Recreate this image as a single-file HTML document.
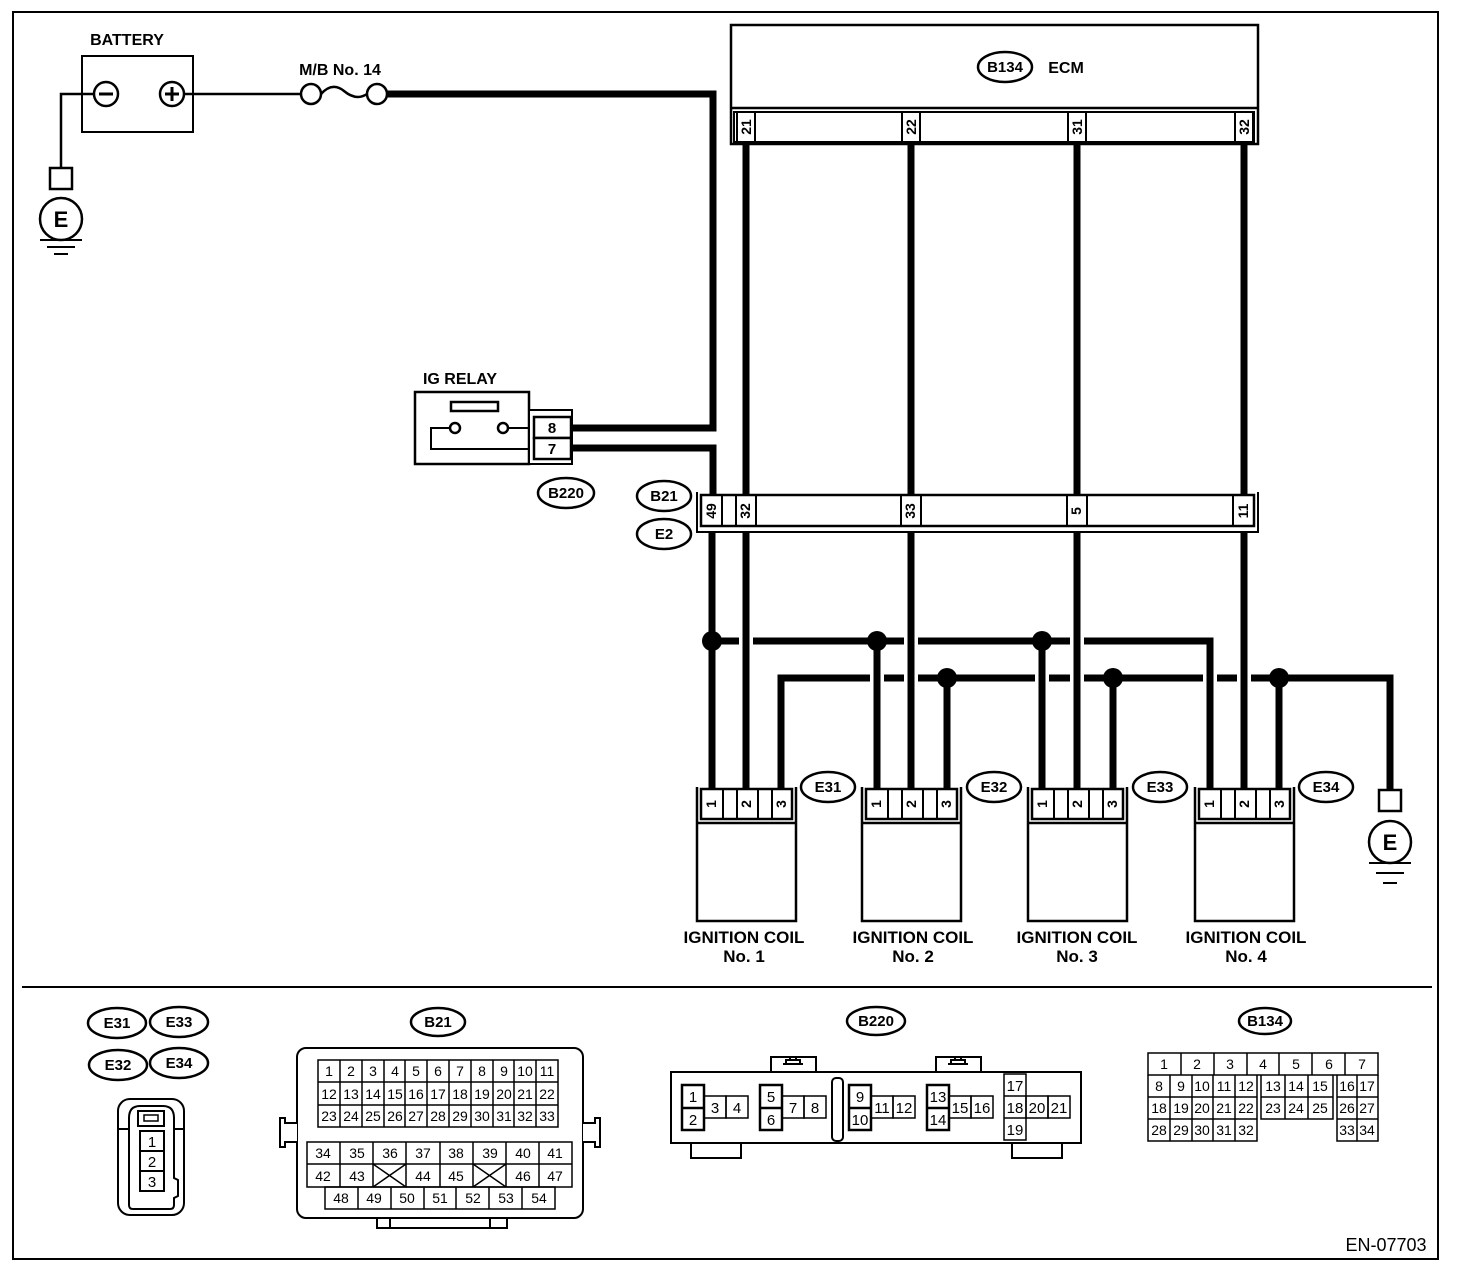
<!DOCTYPE html>
<html><head><meta charset="utf-8"><style>
html,body{margin:0;padding:0;background:#fff}
svg{display:block}
text{font-family:"Liberation Sans",sans-serif;font-weight:bold;fill:#000}
</style></head><body>
<svg width="1472" height="1274" viewBox="0 0 1472 1274" xmlns="http://www.w3.org/2000/svg">
<rect x="0" y="0" width="1472" height="1274" fill="#fff"/>
<rect x="13" y="12" width="1425" height="1247" fill="none" stroke="#000" stroke-width="2"/>
<line x1="22" y1="987" x2="1432" y2="987" stroke="#000" stroke-width="2"/>

<!-- Battery -->
<text x="127" y="45" font-size="16" text-anchor="middle">BATTERY</text>
<rect x="82" y="56" width="111" height="76" fill="none" stroke="#000" stroke-width="2"/>
<circle cx="106" cy="94" r="12" fill="none" stroke="#000" stroke-width="2.5"/>
<line x1="99" y1="94" x2="113" y2="94" stroke="#000" stroke-width="3"/>
<circle cx="172" cy="94" r="12" fill="none" stroke="#000" stroke-width="2.5"/>
<line x1="165" y1="94" x2="179" y2="94" stroke="#000" stroke-width="3"/>
<line x1="172" y1="87" x2="172" y2="101" stroke="#000" stroke-width="3"/>
<polyline points="94,94 61,94 61,168" fill="none" stroke="#000" stroke-width="2.5"/>
<line x1="184" y1="94" x2="300" y2="94" stroke="#000" stroke-width="2.5"/>
<text x="340" y="75" font-size="16" text-anchor="middle">M/B No. 14</text>
<circle cx="311" cy="94" r="10" fill="none" stroke="#000" stroke-width="2.5"/>
<circle cx="377" cy="94" r="10" fill="none" stroke="#000" stroke-width="2.5"/>
<path d="M321,94 C330,84 338,86 344,91 C350,96 358,100 367,94" fill="none" stroke="#000" stroke-width="2.5"/>
<!-- left ground -->
<rect x="50" y="168" width="22" height="21" fill="#fff" stroke="#000" stroke-width="2.5"/>
<circle cx="61" cy="219" r="21" fill="#fff" stroke="#000" stroke-width="2.5"/>
<text x="61" y="227" font-size="22" text-anchor="middle">E</text>
<line x1="40" y1="240" x2="82" y2="240" stroke="#000" stroke-width="2"/>
<line x1="47" y1="247" x2="75" y2="247" stroke="#000" stroke-width="2"/>
<line x1="54" y1="254" x2="68" y2="254" stroke="#000" stroke-width="2"/>

<!-- power wire -->
<polyline points="387,94 713,94 713,428 572,428" fill="none" stroke="#000" stroke-width="7"/>
<polyline points="572,448 713,448 713,495" fill="none" stroke="#000" stroke-width="7"/>

<!-- IG relay -->
<text x="460" y="384" font-size="16" text-anchor="middle">IG RELAY</text>
<rect x="415" y="392" width="114" height="72" fill="none" stroke="#000" stroke-width="2.5"/>
<rect x="451" y="402" width="47" height="9" fill="none" stroke="#000" stroke-width="2.5"/>
<polyline points="451,428 431,428 431,449 529,449" fill="none" stroke="#000" stroke-width="2"/>
<line x1="508" y1="428" x2="529" y2="428" stroke="#000" stroke-width="2"/>
<circle cx="455" cy="428" r="5" fill="#fff" stroke="#000" stroke-width="2.5"/>
<circle cx="503" cy="428" r="5" fill="#fff" stroke="#000" stroke-width="2.5"/>
<rect x="529" y="410" width="43" height="54" fill="#fff" stroke="#000" stroke-width="2"/>
<rect x="534" y="417" width="37" height="21" fill="#fff" stroke="#000" stroke-width="2.5"/>
<rect x="534" y="438" width="37" height="21" fill="#fff" stroke="#000" stroke-width="2.5"/>
<text x="552" y="433" font-size="15" text-anchor="middle">8</text>
<text x="552" y="454" font-size="15" text-anchor="middle">7</text>
<ellipse cx="566" cy="493" rx="28" ry="15" fill="#fff" stroke="#000" stroke-width="2.5"/>
<text x="566" y="498" font-size="15" text-anchor="middle">B220</text>

<!-- ECM -->
<rect x="731" y="25" width="527" height="119" fill="none" stroke="#000" stroke-width="2.5"/>
<line x1="731" y1="108" x2="1258" y2="108" stroke="#000" stroke-width="2.5"/>
<rect x="734" y="112" width="520" height="30" fill="none" stroke="#000" stroke-width="2"/>
<ellipse cx="1005" cy="67" rx="27" ry="15" fill="#fff" stroke="#000" stroke-width="2.5"/>
<text x="1005" y="72" font-size="15" text-anchor="middle">B134</text>
<text x="1066" y="73" font-size="16" text-anchor="middle">ECM</text>
<g stroke="#000" stroke-width="2">
<line x1="755" y1="112" x2="755" y2="142"/><line x1="737" y1="112" x2="737" y2="142"/>
<line x1="902" y1="112" x2="902" y2="142"/><line x1="920" y1="112" x2="920" y2="142"/>
<line x1="1068" y1="112" x2="1068" y2="142"/><line x1="1086" y1="112" x2="1086" y2="142"/>
<line x1="1235" y1="112" x2="1235" y2="142"/><line x1="1253" y1="112" x2="1253" y2="142"/>
</g>
<g font-size="14" text-anchor="middle">
<text transform="translate(751,127) rotate(-90)">21</text>
<text transform="translate(916,127) rotate(-90)">22</text>
<text transform="translate(1082,127) rotate(-90)">31</text>
<text transform="translate(1249,127) rotate(-90)">32</text>
</g>
<g stroke="#000" stroke-width="7">
<line x1="746" y1="143" x2="746" y2="495"/>
<line x1="911" y1="143" x2="911" y2="495"/>
<line x1="1077" y1="143" x2="1077" y2="495"/>
<line x1="1244" y1="143" x2="1244" y2="495"/>
</g>

<!-- B21/E2 strip -->
<polyline points="697,492 697,532 1258,532 1258,492" fill="none" stroke="#000" stroke-width="2"/>
<rect x="701" y="495" width="553" height="31" fill="#fff" stroke="#000" stroke-width="2.5"/>
<g stroke="#000" stroke-width="2">
<line x1="722" y1="495" x2="722" y2="526"/>
<line x1="736" y1="495" x2="736" y2="526"/><line x1="756" y1="495" x2="756" y2="526"/>
<line x1="901" y1="495" x2="901" y2="526"/><line x1="921" y1="495" x2="921" y2="526"/>
<line x1="1067" y1="495" x2="1067" y2="526"/><line x1="1087" y1="495" x2="1087" y2="526"/>
<line x1="1233" y1="495" x2="1233" y2="526"/>
</g>
<g font-size="14" text-anchor="middle">
<text transform="translate(716,511) rotate(-90)">49</text>
<text transform="translate(750,511) rotate(-90)">32</text>
<text transform="translate(915,511) rotate(-90)">33</text>
<text transform="translate(1081,511) rotate(-90)">5</text>
<text transform="translate(1248,511) rotate(-90)">11</text>
</g>
<ellipse cx="664" cy="496" rx="27" ry="15" fill="#fff" stroke="#000" stroke-width="2.5"/>
<text x="664" y="501" font-size="15" text-anchor="middle">B21</text>
<ellipse cx="664" cy="534" rx="27" ry="15" fill="#fff" stroke="#000" stroke-width="2.5"/>
<text x="664" y="539" font-size="15" text-anchor="middle">E2</text>

<!-- lower wires -->
<g stroke="#000" stroke-width="7" fill="none">
<line x1="712" y1="531" x2="712" y2="788"/>
<line x1="746" y1="531" x2="746" y2="788"/>
<line x1="911" y1="531" x2="911" y2="788"/>
<line x1="1077" y1="531" x2="1077" y2="788"/>
<line x1="1244" y1="531" x2="1244" y2="788"/>
<line x1="877" y1="641" x2="877" y2="788"/>
<line x1="1042" y1="641" x2="1042" y2="788"/>
<line x1="947" y1="678" x2="947" y2="788"/>
<line x1="1113" y1="678" x2="1113" y2="788"/>
<line x1="1279" y1="678" x2="1279" y2="788"/>
<line x1="712" y1="641" x2="739" y2="641"/>
<line x1="753" y1="641" x2="904" y2="641"/>
<line x1="918" y1="641" x2="1070" y2="641"/>
<polyline points="1084,641 1210,641 1210,788"/>
<polyline points="781,788 781,678 870,678"/>
<line x1="884" y1="678" x2="904" y2="678"/>
<line x1="918" y1="678" x2="1035" y2="678"/>
<line x1="1049" y1="678" x2="1070" y2="678"/>
<line x1="1084" y1="678" x2="1203" y2="678"/>
<line x1="1217" y1="678" x2="1237" y2="678"/>
<polyline points="1251,678 1390,678 1390,790"/>
</g>
<g fill="#000">
<circle cx="712" cy="641" r="10"/><circle cx="877" cy="641" r="10"/><circle cx="1042" cy="641" r="10"/>
<circle cx="947" cy="678" r="10"/><circle cx="1113" cy="678" r="10"/><circle cx="1279" cy="678" r="10"/>
</g>

<!-- right ground -->
<rect x="1379" y="790" width="22" height="21" fill="#fff" stroke="#000" stroke-width="2.5"/>
<circle cx="1390" cy="842" r="21" fill="#fff" stroke="#000" stroke-width="2.5"/>
<text x="1390" y="850" font-size="22" text-anchor="middle">E</text>
<line x1="1369" y1="863" x2="1411" y2="863" stroke="#000" stroke-width="2"/>
<line x1="1376" y1="873" x2="1404" y2="873" stroke="#000" stroke-width="2"/>
<line x1="1383" y1="883" x2="1397" y2="883" stroke="#000" stroke-width="2"/>

<!-- coils -->
<g font-size="14" text-anchor="middle">
<g transform="translate(0,0)">
<polyline points="697,787 697,921 796,921 796,787" fill="none" stroke="#000" stroke-width="2.5"/>
<line x1="697" y1="823" x2="796" y2="823" stroke="#000" stroke-width="2.5"/>
<rect x="701" y="789" width="91" height="30" fill="#fff" stroke="#000" stroke-width="2.5"/>
<g stroke="#000" stroke-width="2"><line x1="723" y1="789" x2="723" y2="819"/><line x1="737" y1="789" x2="737" y2="819"/><line x1="758" y1="789" x2="758" y2="819"/><line x1="772" y1="789" x2="772" y2="819"/></g>
<text transform="translate(716,804) rotate(-90)">1</text>
<text transform="translate(751,804) rotate(-90)">2</text>
<text transform="translate(786,804) rotate(-90)">3</text>
</g>
<g transform="translate(165,0)">
<polyline points="697,787 697,921 796,921 796,787" fill="none" stroke="#000" stroke-width="2.5"/>
<line x1="697" y1="823" x2="796" y2="823" stroke="#000" stroke-width="2.5"/>
<rect x="701" y="789" width="91" height="30" fill="#fff" stroke="#000" stroke-width="2.5"/>
<g stroke="#000" stroke-width="2"><line x1="723" y1="789" x2="723" y2="819"/><line x1="737" y1="789" x2="737" y2="819"/><line x1="758" y1="789" x2="758" y2="819"/><line x1="772" y1="789" x2="772" y2="819"/></g>
<text transform="translate(716,804) rotate(-90)">1</text>
<text transform="translate(751,804) rotate(-90)">2</text>
<text transform="translate(786,804) rotate(-90)">3</text>
</g>
<g transform="translate(331,0)">
<polyline points="697,787 697,921 796,921 796,787" fill="none" stroke="#000" stroke-width="2.5"/>
<line x1="697" y1="823" x2="796" y2="823" stroke="#000" stroke-width="2.5"/>
<rect x="701" y="789" width="91" height="30" fill="#fff" stroke="#000" stroke-width="2.5"/>
<g stroke="#000" stroke-width="2"><line x1="723" y1="789" x2="723" y2="819"/><line x1="737" y1="789" x2="737" y2="819"/><line x1="758" y1="789" x2="758" y2="819"/><line x1="772" y1="789" x2="772" y2="819"/></g>
<text transform="translate(716,804) rotate(-90)">1</text>
<text transform="translate(751,804) rotate(-90)">2</text>
<text transform="translate(786,804) rotate(-90)">3</text>
</g>
<g transform="translate(498,0)">
<polyline points="697,787 697,921 796,921 796,787" fill="none" stroke="#000" stroke-width="2.5"/>
<line x1="697" y1="823" x2="796" y2="823" stroke="#000" stroke-width="2.5"/>
<rect x="701" y="789" width="91" height="30" fill="#fff" stroke="#000" stroke-width="2.5"/>
<g stroke="#000" stroke-width="2"><line x1="723" y1="789" x2="723" y2="819"/><line x1="737" y1="789" x2="737" y2="819"/><line x1="758" y1="789" x2="758" y2="819"/><line x1="772" y1="789" x2="772" y2="819"/></g>
<text transform="translate(716,804) rotate(-90)">1</text>
<text transform="translate(751,804) rotate(-90)">2</text>
<text transform="translate(786,804) rotate(-90)">3</text>
</g>
</g>
<g font-size="15" text-anchor="middle">
<ellipse cx="828" cy="787" rx="27" ry="15" fill="#fff" stroke="#000" stroke-width="2.5"/><text x="828" y="792">E31</text>
<ellipse cx="994" cy="787" rx="27" ry="15" fill="#fff" stroke="#000" stroke-width="2.5"/><text x="994" y="792">E32</text>
<ellipse cx="1160" cy="787" rx="27" ry="15" fill="#fff" stroke="#000" stroke-width="2.5"/><text x="1160" y="792">E33</text>
<ellipse cx="1326" cy="787" rx="27" ry="15" fill="#fff" stroke="#000" stroke-width="2.5"/><text x="1326" y="792">E34</text>
</g>
<g font-size="17" text-anchor="middle">
<text x="744" y="943">IGNITION COIL</text><text x="744" y="962">No. 1</text>
<text x="913" y="943">IGNITION COIL</text><text x="913" y="962">No. 2</text>
<text x="1077" y="943">IGNITION COIL</text><text x="1077" y="962">No. 3</text>
<text x="1246" y="943">IGNITION COIL</text><text x="1246" y="962">No. 4</text>
</g>

<!-- bottom: E31 etc -->
<g font-size="15" text-anchor="middle">
<ellipse cx="117" cy="1023" rx="29" ry="15" fill="#fff" stroke="#000" stroke-width="2.5"/><text x="117" y="1028">E31</text>
<ellipse cx="179" cy="1022" rx="29" ry="15" fill="#fff" stroke="#000" stroke-width="2.5"/><text x="179" y="1027">E33</text>
<ellipse cx="118" cy="1065" rx="29" ry="15" fill="#fff" stroke="#000" stroke-width="2.5"/><text x="118" y="1070">E32</text>
<ellipse cx="179" cy="1063" rx="29" ry="15" fill="#fff" stroke="#000" stroke-width="2.5"/><text x="179" y="1068">E34</text>
</g>
<rect x="118" y="1099" width="66" height="116" rx="12" fill="none" stroke="#000" stroke-width="2"/>
<path d="M129,1205 L129,1118 Q129,1106 140,1106 L163,1106 Q174,1106 174,1118 L174,1178 L178,1180 L178,1196 L174,1198 L174,1205 Q174,1209 170,1209 L133,1209 Q129,1209 129,1205 Z" fill="none" stroke="#000" stroke-width="2"/>
<line x1="119" y1="1129" x2="129" y2="1129" stroke="#000" stroke-width="2"/>
<line x1="174" y1="1129" x2="183" y2="1129" stroke="#000" stroke-width="2"/>
<rect x="138" y="1111" width="26" height="15" fill="none" stroke="#000" stroke-width="2"/>
<rect x="144" y="1115" width="14" height="6" fill="none" stroke="#000" stroke-width="1.5"/>
<g fill="none" stroke="#000" stroke-width="2"><rect x="140" y="1131" width="24" height="20"/><rect x="140" y="1151" width="24" height="20"/><rect x="140" y="1171" width="24" height="20"/></g>
<g font-size="15" text-anchor="middle">
<text x="152" y="1147" style="font-weight:normal">1</text><text x="152" y="1167" style="font-weight:normal">2</text><text x="152" y="1187" style="font-weight:normal">3</text>
</g>

<!-- B21 -->
<ellipse cx="438" cy="1022" rx="27" ry="14" fill="#fff" stroke="#000" stroke-width="2.5"/>
<text x="438" y="1027" font-size="15" text-anchor="middle">B21</text>
<rect x="297" y="1048" width="286" height="170" rx="9" fill="none" stroke="#000" stroke-width="2"/>
<path d="M297,1123 L285,1123 L285,1118 L280,1118 L280,1147 L285,1147 L285,1142 L297,1142" fill="#fff" stroke="#000" stroke-width="2"/>
<path d="M583,1123 L595,1123 L595,1118 L600,1118 L600,1147 L595,1147 L595,1142 L583,1142" fill="#fff" stroke="#000" stroke-width="2"/>
<path d="M377,1218 L377,1228 L507,1228 L507,1218" fill="none" stroke="#000" stroke-width="2"/>
<line x1="390" y1="1218" x2="390" y2="1228" stroke="#000" stroke-width="2"/>
<line x1="490" y1="1218" x2="490" y2="1228" stroke="#000" stroke-width="2"/>
<g fill="none" stroke="#000" stroke-width="1.5">
<rect x="318" y="1060" width="240" height="67"/>
<line x1="318" y1="1082" x2="558" y2="1082"/><line x1="318" y1="1105" x2="558" y2="1105"/>
<line x1="340" y1="1060" x2="340" y2="1127"/><line x1="362" y1="1060" x2="362" y2="1127"/><line x1="384" y1="1060" x2="384" y2="1127"/><line x1="405" y1="1060" x2="405" y2="1127"/><line x1="427" y1="1060" x2="427" y2="1127"/><line x1="449" y1="1060" x2="449" y2="1127"/><line x1="471" y1="1060" x2="471" y2="1127"/><line x1="493" y1="1060" x2="493" y2="1127"/><line x1="514" y1="1060" x2="514" y2="1127"/><line x1="536" y1="1060" x2="536" y2="1127"/>
<rect x="307" y="1142" width="265" height="45"/>
<line x1="307" y1="1164" x2="572" y2="1164"/>
<line x1="340" y1="1142" x2="340" y2="1187"/><line x1="373" y1="1142" x2="373" y2="1187"/><line x1="406" y1="1142" x2="406" y2="1187"/><line x1="440" y1="1142" x2="440" y2="1187"/><line x1="473" y1="1142" x2="473" y2="1187"/><line x1="506" y1="1142" x2="506" y2="1187"/><line x1="539" y1="1142" x2="539" y2="1187"/>
<line x1="373" y1="1164" x2="406" y2="1187"/><line x1="406" y1="1164" x2="373" y2="1187"/>
<line x1="473" y1="1164" x2="506" y2="1187"/><line x1="506" y1="1164" x2="473" y2="1187"/>
<rect x="325" y="1187" width="230" height="22"/>
<line x1="358" y1="1187" x2="358" y2="1209"/><line x1="391" y1="1187" x2="391" y2="1209"/><line x1="424" y1="1187" x2="424" y2="1209"/><line x1="456" y1="1187" x2="456" y2="1209"/><line x1="489" y1="1187" x2="489" y2="1209"/><line x1="522" y1="1187" x2="522" y2="1209"/>
</g>
<g font-size="14" text-anchor="middle">
<text x="329" y="1076" style="font-weight:normal">1</text><text x="351" y="1076" style="font-weight:normal">2</text><text x="373" y="1076" style="font-weight:normal">3</text><text x="395" y="1076" style="font-weight:normal">4</text><text x="416" y="1076" style="font-weight:normal">5</text><text x="438" y="1076" style="font-weight:normal">6</text><text x="460" y="1076" style="font-weight:normal">7</text><text x="482" y="1076" style="font-weight:normal">8</text><text x="504" y="1076" style="font-weight:normal">9</text><text x="525" y="1076" style="font-weight:normal">10</text><text x="547" y="1076" style="font-weight:normal">11</text>
<text x="329" y="1099" style="font-weight:normal">12</text><text x="351" y="1099" style="font-weight:normal">13</text><text x="373" y="1099" style="font-weight:normal">14</text><text x="395" y="1099" style="font-weight:normal">15</text><text x="416" y="1099" style="font-weight:normal">16</text><text x="438" y="1099" style="font-weight:normal">17</text><text x="460" y="1099" style="font-weight:normal">18</text><text x="482" y="1099" style="font-weight:normal">19</text><text x="504" y="1099" style="font-weight:normal">20</text><text x="525" y="1099" style="font-weight:normal">21</text><text x="547" y="1099" style="font-weight:normal">22</text>
<text x="329" y="1121" style="font-weight:normal">23</text><text x="351" y="1121" style="font-weight:normal">24</text><text x="373" y="1121" style="font-weight:normal">25</text><text x="395" y="1121" style="font-weight:normal">26</text><text x="416" y="1121" style="font-weight:normal">27</text><text x="438" y="1121" style="font-weight:normal">28</text><text x="460" y="1121" style="font-weight:normal">29</text><text x="482" y="1121" style="font-weight:normal">30</text><text x="504" y="1121" style="font-weight:normal">31</text><text x="525" y="1121" style="font-weight:normal">32</text><text x="547" y="1121" style="font-weight:normal">33</text>
<text x="323" y="1158" style="font-weight:normal">34</text><text x="357" y="1158" style="font-weight:normal">35</text><text x="390" y="1158" style="font-weight:normal">36</text><text x="423" y="1158" style="font-weight:normal">37</text><text x="456" y="1158" style="font-weight:normal">38</text><text x="490" y="1158" style="font-weight:normal">39</text><text x="523" y="1158" style="font-weight:normal">40</text><text x="555" y="1158" style="font-weight:normal">41</text>
<text x="323" y="1181" style="font-weight:normal">42</text><text x="357" y="1181" style="font-weight:normal">43</text><text x="423" y="1181" style="font-weight:normal">44</text><text x="456" y="1181" style="font-weight:normal">45</text><text x="523" y="1181" style="font-weight:normal">46</text><text x="555" y="1181" style="font-weight:normal">47</text>
<text x="341" y="1203" style="font-weight:normal">48</text><text x="374" y="1203" style="font-weight:normal">49</text><text x="407" y="1203" style="font-weight:normal">50</text><text x="440" y="1203" style="font-weight:normal">51</text><text x="473" y="1203" style="font-weight:normal">52</text><text x="506" y="1203" style="font-weight:normal">53</text><text x="539" y="1203" style="font-weight:normal">54</text>
</g>

<!-- B220 -->
<ellipse cx="876" cy="1021" rx="29" ry="14" fill="#fff" stroke="#000" stroke-width="2.5"/>
<text x="876" y="1026" font-size="15" text-anchor="middle">B220</text>
<g fill="none" stroke="#000" stroke-width="2">
<rect x="671" y="1072" width="410" height="71"/>
<path d="M771,1072 L771,1057 L816,1057 L816,1072"/><path d="M936,1072 L936,1057 L981,1057 L981,1072"/>
<path d="M786,1064 L786,1060 L800,1060 L800,1064 M783,1064 L803,1064 M790,1060 L790,1057 L796,1057 L796,1060"/>
<path d="M951,1064 L951,1060 L965,1060 L965,1064 M948,1064 L968,1064 M955,1060 L955,1057 L961,1057 L961,1060"/>
<path d="M691,1143 L691,1158 L741,1158 L741,1143"/><path d="M1012,1143 L1012,1158 L1062,1158 L1062,1143"/>
<rect x="832" y="1078" width="11" height="63" rx="4"/>
</g>
<g fill="none" stroke="#000" stroke-width="1.5">
<rect x="704" y="1096" width="22" height="22"/><rect x="726" y="1096" width="22" height="22"/>
<rect x="782" y="1096" width="22" height="22"/><rect x="804" y="1096" width="22" height="22"/>
<rect x="871" y="1096" width="22" height="22"/><rect x="893" y="1096" width="22" height="22"/>
<rect x="949" y="1096" width="22" height="22"/><rect x="971" y="1096" width="22" height="22"/>
<rect x="1004" y="1074" width="22" height="66"/><line x1="1004" y1="1096" x2="1026" y2="1096"/><line x1="1004" y1="1118" x2="1026" y2="1118"/>
<rect x="1026" y="1096" width="22" height="22"/><rect x="1048" y="1096" width="22" height="22"/>
</g>
<g fill="none" stroke="#000" stroke-width="2.5">
<rect x="682" y="1085" width="22" height="45"/><line x1="682" y1="1108" x2="704" y2="1108"/>
<rect x="760" y="1085" width="22" height="45"/><line x1="760" y1="1108" x2="782" y2="1108"/>
<rect x="849" y="1085" width="22" height="45"/><line x1="849" y1="1108" x2="871" y2="1108"/>
<rect x="927" y="1085" width="22" height="45"/><line x1="927" y1="1108" x2="949" y2="1108"/>
</g>
<g font-size="15" text-anchor="middle">
<text x="693" y="1102" style="font-weight:normal">1</text><text x="693" y="1125" style="font-weight:normal">2</text>
<text x="715" y="1113" style="font-weight:normal">3</text><text x="737" y="1113" style="font-weight:normal">4</text>
<text x="771" y="1102" style="font-weight:normal">5</text><text x="771" y="1125" style="font-weight:normal">6</text>
<text x="793" y="1113" style="font-weight:normal">7</text><text x="815" y="1113" style="font-weight:normal">8</text>
<text x="860" y="1102" style="font-weight:normal">9</text><text x="860" y="1125" style="font-weight:normal">10</text>
<text x="882" y="1113" style="font-weight:normal">11</text><text x="904" y="1113" style="font-weight:normal">12</text>
<text x="938" y="1102" style="font-weight:normal">13</text><text x="938" y="1125" style="font-weight:normal">14</text>
<text x="960" y="1113" style="font-weight:normal">15</text><text x="982" y="1113" style="font-weight:normal">16</text>
<text x="1015" y="1091" style="font-weight:normal">17</text><text x="1015" y="1113" style="font-weight:normal">18</text><text x="1015" y="1135" style="font-weight:normal">19</text>
<text x="1037" y="1113" style="font-weight:normal">20</text><text x="1059" y="1113" style="font-weight:normal">21</text>
</g>

<!-- B134 -->
<ellipse cx="1265" cy="1021" rx="26" ry="13" fill="#fff" stroke="#000" stroke-width="2.5"/>
<text x="1265" y="1026" font-size="15" text-anchor="middle">B134</text>
<g fill="none" stroke="#000" stroke-width="1.5">
<rect x="1148" y="1053" width="230" height="22"/>
<line x1="1181" y1="1053" x2="1181" y2="1075"/><line x1="1214" y1="1053" x2="1214" y2="1075"/><line x1="1247" y1="1053" x2="1247" y2="1075"/><line x1="1279" y1="1053" x2="1279" y2="1075"/><line x1="1312" y1="1053" x2="1312" y2="1075"/><line x1="1345" y1="1053" x2="1345" y2="1075"/>
<path d="M1148,1075 L1148,1141 L1257,1141 L1257,1075"/>
<line x1="1148" y1="1097" x2="1257" y2="1097"/><line x1="1148" y1="1119" x2="1257" y2="1119"/>
<line x1="1170" y1="1075" x2="1170" y2="1141"/><line x1="1192" y1="1075" x2="1192" y2="1141"/><line x1="1213" y1="1075" x2="1213" y2="1141"/><line x1="1235" y1="1075" x2="1235" y2="1141"/>
<path d="M1261,1075 L1261,1119 L1333,1119 L1333,1075"/><line x1="1261" y1="1097" x2="1333" y2="1097"/>
<line x1="1285" y1="1075" x2="1285" y2="1119"/><line x1="1308" y1="1075" x2="1308" y2="1119"/>
<path d="M1337,1075 L1337,1141 L1378,1141 L1378,1075"/><line x1="1337" y1="1097" x2="1378" y2="1097"/><line x1="1337" y1="1119" x2="1378" y2="1119"/>
<line x1="1357" y1="1075" x2="1357" y2="1141"/>
</g>
<g font-size="14" text-anchor="middle">
<text x="1164" y="1069" style="font-weight:normal">1</text><text x="1197" y="1069" style="font-weight:normal">2</text><text x="1230" y="1069" style="font-weight:normal">3</text><text x="1263" y="1069" style="font-weight:normal">4</text><text x="1296" y="1069" style="font-weight:normal">5</text><text x="1329" y="1069" style="font-weight:normal">6</text><text x="1362" y="1069" style="font-weight:normal">7</text>
<text x="1159" y="1091" style="font-weight:normal">8</text><text x="1181" y="1091" style="font-weight:normal">9</text><text x="1202" y="1091" style="font-weight:normal">10</text><text x="1224" y="1091" style="font-weight:normal">11</text><text x="1246" y="1091" style="font-weight:normal">12</text><text x="1273" y="1091" style="font-weight:normal">13</text><text x="1296" y="1091" style="font-weight:normal">14</text><text x="1320" y="1091" style="font-weight:normal">15</text><text x="1347" y="1091" style="font-weight:normal">16</text><text x="1367" y="1091" style="font-weight:normal">17</text>
<text x="1159" y="1113" style="font-weight:normal">18</text><text x="1181" y="1113" style="font-weight:normal">19</text><text x="1202" y="1113" style="font-weight:normal">20</text><text x="1224" y="1113" style="font-weight:normal">21</text><text x="1246" y="1113" style="font-weight:normal">22</text><text x="1273" y="1113" style="font-weight:normal">23</text><text x="1296" y="1113" style="font-weight:normal">24</text><text x="1320" y="1113" style="font-weight:normal">25</text><text x="1347" y="1113" style="font-weight:normal">26</text><text x="1367" y="1113" style="font-weight:normal">27</text>
<text x="1159" y="1135" style="font-weight:normal">28</text><text x="1181" y="1135" style="font-weight:normal">29</text><text x="1202" y="1135" style="font-weight:normal">30</text><text x="1224" y="1135" style="font-weight:normal">31</text><text x="1246" y="1135" style="font-weight:normal">32</text><text x="1347" y="1135" style="font-weight:normal">33</text><text x="1367" y="1135" style="font-weight:normal">34</text>
</g>

<text x="1386" y="1251" font-size="18" text-anchor="middle" style="font-weight:normal">EN-07703</text>
</svg>
</body></html>
